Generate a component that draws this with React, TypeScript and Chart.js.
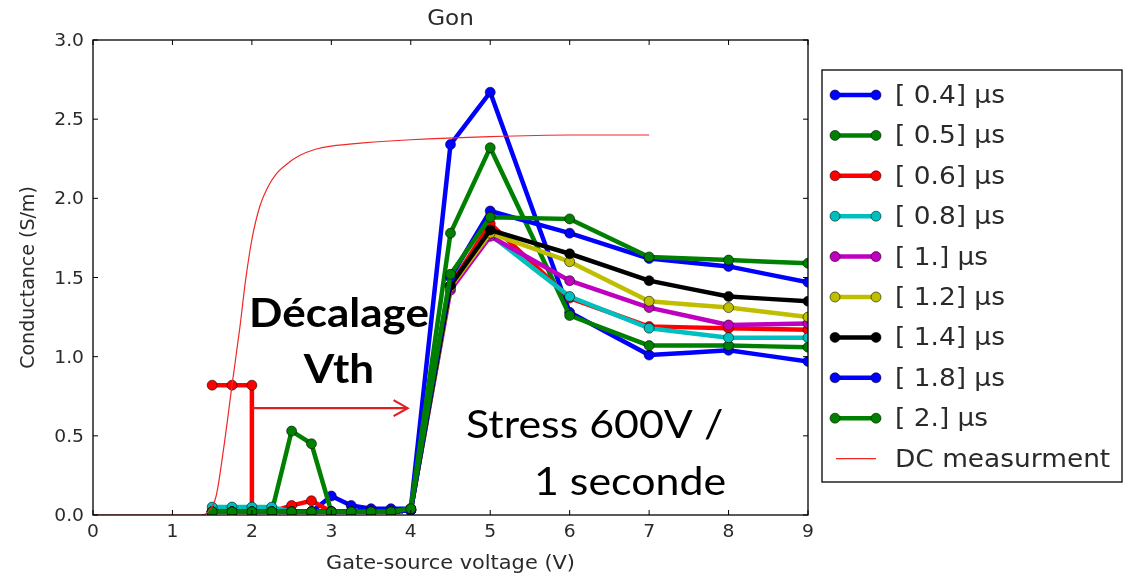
import React, { useEffect, useRef } from "react";
import { Chart, registerables } from "chart.js";

Chart.register(...registerables);

// ---------- data ----------
const xVoltage = [1.5, 1.75, 2.0, 2.25, 2.5, 2.75, 3.0, 3.25, 3.5, 3.75, 4.0, 4.5, 5, 6, 7, 8, 9];
const xVoltageRed = [1.5, 1.75, 2.0, 2.0, 2.25, 2.5, 2.75, 3.0, 3.25, 3.5, 3.75, 4.0, 4.5, 5, 6, 7, 8, 9];

const seriesLabels = ["[ 0.4] µs", "[ 0.5] µs", "[ 0.6] µs", "[ 0.8] µs", "[ 1.] µs", "[ 1.2] µs", "[ 1.4] µs", "[ 1.8] µs", "[ 2.] µs"];

const g04 = [0.02, 0.02, 0.02, 0.02, 0.02, 0.02, 0.12, 0.06, 0.04, 0.04, 0.04, 2.34, 2.67, 1.28, 1.01, 1.04, 0.97];
const g05 = [0.02, 0.02, 0.02, 0.02, 0.53, 0.45, 0.02, 0.02, 0.02, 0.02, 0.04, 1.78, 2.32, 1.26, 1.07, 1.07, 1.06];
const g06 = [0.82, 0.82, 0.82, 0.02, 0.02, 0.06, 0.09, 0.02, 0.02, 0.02, 0.02, 0.03, 1.45, 1.84, 1.37, 1.19, 1.18, 1.17];
const g08 = [0.05, 0.05, 0.05, 0.05, 0.02, 0.02, 0.02, 0.02, 0.02, 0.02, 0.03, 1.45, 1.77, 1.38, 1.18, 1.12, 1.12];
const g10 = [0.02, 0.02, 0.02, 0.02, 0.02, 0.02, 0.02, 0.02, 0.02, 0.02, 0.03, 1.42, 1.76, 1.48, 1.31, 1.2, 1.21];
const g12 = [0.02, 0.02, 0.02, 0.02, 0.02, 0.02, 0.02, 0.02, 0.02, 0.02, 0.03, 1.44, 1.78, 1.6, 1.35, 1.31, 1.25];
const g14 = [0.02, 0.02, 0.02, 0.02, 0.02, 0.02, 0.02, 0.02, 0.02, 0.02, 0.03, 1.45, 1.8, 1.65, 1.48, 1.38, 1.35];
const g18 = [0.02, 0.02, 0.02, 0.02, 0.02, 0.02, 0.02, 0.02, 0.02, 0.02, 0.03, 1.5, 1.92, 1.78, 1.62, 1.57, 1.47];
const g20 = [0.02, 0.02, 0.02, 0.02, 0.02, 0.02, 0.02, 0.02, 0.02, 0.02, 0.04, 1.52, 1.88, 1.87, 1.63, 1.61, 1.59];

const dcLabel = "DC measurment";
const dcX = [0, 1.0, 1.35, 1.45, 1.55, 1.65, 1.75, 1.85, 1.92, 2.0, 2.1, 2.2, 2.3, 2.45, 2.6, 2.8, 3.0, 3.4, 4.0, 5.0, 6.0, 7.0];
const dcY = [0, 0, 0, 0.02, 0.12, 0.44, 0.82, 1.19, 1.48, 1.74, 1.95, 2.07, 2.15, 2.22, 2.27, 2.31, 2.33, 2.35, 2.37, 2.39, 2.4, 2.4];

const xTicks = [0, 1, 2, 3, 4, 5, 6, 7, 8, 9];
const yTicks = [0, 0.5, 1.0, 1.5, 2.0, 2.5, 3.0];
const xTickLabels = ["0", "1", "2", "3", "4", "5", "6", "7", "8", "9"];
const yTickLabels = ["0.0", "0.5", "1.0", "1.5", "2.0", "2.5", "3.0"];

const titleText = "Gon";
const xTitle = "Gate-source voltage (V)";
const yTitle = "Conductance (S/m)";
const noteShift = ["Décalage", "Vth"];
const noteStress = ["Stress 600V /", "1 seconde"];
const arrowFrom = { x: 2.0, y: 0.675 };
const arrowTo = { x: 3.96, y: 0.675 };

// ---------- styles ----------
const seriesColors = ["#0000ff", "#008000", "#ff0000", "#00bfbf", "#bf00bf", "#bfbf00", "#000000", "#0000ff", "#008000"];
const dcColor = "#f02828";
const textColor = "#2a2a2a";
const STRETCH = 1.1;

const seriesValues = [g04, g05, g06, g08, g10, g12, g14, g18, g20];
const seriesXs = [xVoltage, xVoltage, xVoltageRed, xVoltage, xVoltage, xVoltage, xVoltage, xVoltage, xVoltage];

const decorPlugin = {
  id: "decor",
  afterDraw(chart: any) {
    const { ctx, chartArea: a, scales } = chart;
    const xs = scales.x;
    const ys = scales.y;
    ctx.save();
    const line = (x1: number, y1: number, x2: number, y2: number) => {
      ctx.beginPath();
      ctx.moveTo(x1, y1);
      ctx.lineTo(x2, y2);
      ctx.stroke();
    };
    const text = (t: string, x: number, y: number, align: CanvasTextAlign, baseline: CanvasTextBaseline = "alphabetic") => {
      ctx.save();
      ctx.translate(x, y);
      ctx.scale(STRETCH, 1);
      ctx.textAlign = align;
      ctx.textBaseline = baseline;
      ctx.fillText(t, 0, 0);
      ctx.restore();
    };
    // spines
    ctx.strokeStyle = "#000";
    ctx.lineWidth = 1.3;
    ctx.strokeRect(a.left, a.top, a.right - a.left, a.bottom - a.top);
    // inward ticks + tick labels
    ctx.lineWidth = 1;
    ctx.fillStyle = textColor;
    ctx.font = "17px 'DejaVu Sans'";
    xTicks.forEach((v, i) => {
      const p = xs.getPixelForValue(v);
      line(p, a.bottom, p, a.bottom - 5);
      line(p, a.top, p, a.top + 5);
      text(xTickLabels[i], p, 537, "center");
    });
    yTicks.forEach((v, i) => {
      const p = ys.getPixelForValue(v);
      line(a.left, p, a.left + 5, p);
      line(a.right, p, a.right - 5, p);
      text(yTickLabels[i], 84, p + 6, "right");
    });
    // title
    ctx.font = "21px 'DejaVu Sans'";
    text(titleText, (a.left + a.right) / 2, 25, "center");
    // axis titles
    ctx.font = "19px 'DejaVu Sans'";
    text(xTitle, (a.left + a.right) / 2, 569, "center");
    ctx.save();
    ctx.translate(34, (a.top + a.bottom) / 2);
    ctx.rotate(-Math.PI / 2);
    ctx.textAlign = "center";
    ctx.textBaseline = "alphabetic";
    ctx.fillText(yTitle, 0, 0);
    ctx.restore();

    // legend
    const bx = 822, by = 70, bw = 300, bh = 412;
    ctx.fillStyle = "#fff";
    ctx.fillRect(bx, by, bw, bh);
    ctx.strokeStyle = "#000";
    ctx.lineWidth = 1.3;
    ctx.strokeRect(bx, by, bw, bh);
    const rowY0 = 95;
    const dy = 40.4;
    ctx.font = "24px 'DejaVu Sans'";
    seriesLabels.forEach((lab, i) => {
      const y = rowY0 + i * dy;
      ctx.strokeStyle = seriesColors[i];
      ctx.lineWidth = 4.5;
      line(835, y, 876, y);
      for (const mx of [835, 876]) {
        ctx.beginPath();
        ctx.arc(mx, y, 5, 0, Math.PI * 2);
        ctx.fillStyle = seriesColors[i];
        ctx.fill();
        ctx.lineWidth = 1;
        ctx.strokeStyle = "rgba(0,0,0,0.55)";
        ctx.stroke();
      }
      ctx.fillStyle = textColor;
      text(lab, 895, y + 8, "left");
    });
    {
      const y = rowY0 + 9 * dy;
      ctx.strokeStyle = dcColor;
      ctx.lineWidth = 1.2;
      line(836, y, 876, y);
      ctx.fillStyle = textColor;
      text(dcLabel, 895, y + 8, "left");
    }

    // annotations
    ctx.fillStyle = "#000";
    ctx.font = "bold 40px Lato";
    text(noteShift[0], 339, 327, "center");
    text(noteShift[1], 339, 383, "center");
    ctx.font = "39px Lato";
    text(noteStress[0], 466, 438, "left");
    text(noteStress[1], 534, 495, "left");

    // arrow
    const ax1 = xs.getPixelForValue(arrowFrom.x);
    const ay = ys.getPixelForValue(arrowFrom.y);
    const ax2 = xs.getPixelForValue(arrowTo.x);
    ctx.strokeStyle = "#e02020";
    ctx.lineWidth = 2.2;
    line(ax1, ay, ax2, ay);
    ctx.beginPath();
    ctx.moveTo(ax2 - 14, ay - 8);
    ctx.lineTo(ax2, ay);
    ctx.lineTo(ax2 - 14, ay + 8);
    ctx.stroke();
    ctx.restore();
  },
};

export default function App() {
  const ref = useRef<HTMLCanvasElement>(null);
  useEffect(() => {
    const canvas = ref.current!;
    const datasets: any[] = seriesLabels.map((label, i) => ({
      label,
      data: seriesXs[i].map((x, k) => ({ x, y: seriesValues[i][k] })),
      borderColor: seriesColors[i],
      backgroundColor: seriesColors[i],
      borderWidth: 4.5,
      borderJoinStyle: "round",
      pointRadius: 5,
      pointBorderWidth: 1,
      pointBorderColor: "rgba(0,0,0,0.55)",
      pointBackgroundColor: seriesColors[i],
      tension: 0.000001,
      clip: 0,
      order: 30 - i,
    }));
    datasets.push({
      label: dcLabel,
      data: dcX.map((x, k) => ({ x, y: dcY[k] })),
      borderColor: dcColor,
      backgroundColor: dcColor,
      borderWidth: 1.2,
      pointRadius: 0,
      cubicInterpolationMode: "monotone",
      clip: 0,
      order: 1,
    });
    const chart = new Chart(canvas, {
      type: "line",
      data: { datasets },
      options: {
        animation: false,
        responsive: false,
        maintainAspectRatio: false,
        layout: { padding: { left: 0, right: 1127 - 808, top: 40, bottom: 0 } },
        plugins: {
          legend: { display: false },
          tooltip: { enabled: false },
          title: { display: false },
        },
        scales: {
          x: {
            type: "linear",
            min: 0,
            max: 9,
            afterFit: (s: any) => {
              s.height = 63;
            },
            grid: { display: false, drawTicks: false },
            border: { display: false },
            ticks: { display: false, stepSize: 1 },
          },
          y: {
            type: "linear",
            min: 0,
            max: 3,
            afterFit: (s: any) => {
              s.width = 93;
            },
            grid: { display: false, drawTicks: false },
            border: { display: false },
            ticks: { display: false, stepSize: 0.5 },
          },
        },
      },
      plugins: [decorPlugin],
    } as any);
    return () => chart.destroy();
  }, []);
  return (
    <div style={{ position: "fixed", left: 0, top: 0, width: 1127, height: 578, background: "#fff" }}>
      <canvas ref={ref} width={1127} height={578} style={{ width: 1127, height: 578, display: "block" }} />
    </div>
  );
}
